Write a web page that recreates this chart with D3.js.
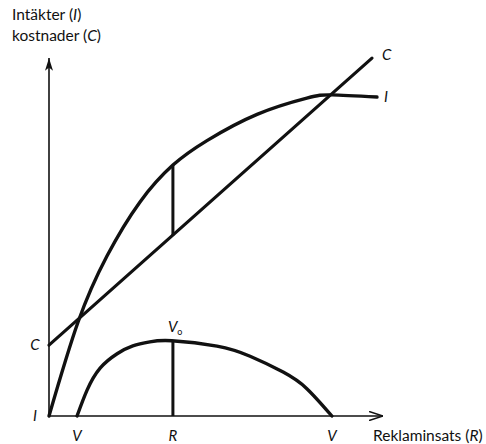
<!DOCTYPE html>
<html>
<head>
<meta charset="utf-8">
<script src="https://cdn.jsdelivr.net/npm/d3@7"></script>
<style>
  body { margin: 0; background: #fff; }
  svg text { font-family: Lato, "Open Sans", sans-serif; fill: #111; }
</style>
</head>
<body>
<svg id="chart"></svg>
<script>
// Revenue curve I (advertising level, value)
const incomeX = [0, 8.7, 17.4, 27.2, 37.1, 47.3, 62.3, 77.2, 84.7, 98.2];
const incomeY = [0, 26.1, 44.5, 59.4, 69.7, 76.5, 83.8, 88.3, 89.2, 88.6];
// Cost line C
const costX = [0, 96.7];
const costY = [19.7, 99.4];
// Profit curve V
const profitX = [8.4, 11.4, 15.3, 20.4, 25.1, 30.2, 36.8, 50.3, 60.2, 70.1, 77.2, 84.7];
const profitY = [0, 7.2, 13.3, 17.3, 19.5, 20.6, 20.9, 19.4, 16.6, 12.2, 7.6, 0];
// Optimum advertising R and its values
const optR = 37.1;
const optIncome = 69.7;
const optCost = 50.2;
const optProfit = 20.9;
// Axis labels
const xTicks = [{ v: 8.4, t: "V" }, { v: 37.1, t: "R" }, { v: 84.7, t: "V" }];
const yTicks = [{ v: 19.7, t: "C" }, { v: 0, t: "I" }];

const W = 486, H = 444;
const svg = d3.select("#chart").attr("width", W).attr("height", H);

const x = d3.scaleLinear().domain([0, 100]).range([49, 383]);
const y = d3.scaleLinear().domain([0, 100]).range([416, 56]);

const defs = svg.append("defs");
defs.append("marker")
    .attr("id", "arrowY").attr("viewBox", "0 0 10 16")
    .attr("refX", 5).attr("refY", 0)
    .attr("markerWidth", 8).attr("markerHeight", 13)
    .attr("markerUnits", "userSpaceOnUse")
    .attr("orient", "0")
    .append("path").attr("d", "M5,0 L10,16 L5,12 L0,16 Z").attr("fill", "#111");
defs.append("marker")
    .attr("id", "arrowX").attr("viewBox", "0 0 14 10")
    .attr("refX", 14).attr("refY", 5)
    .attr("markerWidth", 14).attr("markerHeight", 10)
    .attr("markerUnits", "userSpaceOnUse")
    .attr("orient", "0")
    .append("path").attr("d", "M0,0.5 L14,5 L0,9.5").attr("fill", "none")
    .attr("stroke", "#111").attr("stroke-width", 1.6);

// axes
svg.append("line")
    .attr("x1", x(0)).attr("y1", y(0)).attr("x2", x(0)).attr("y2", y(100) + 2)
    .attr("stroke", "#111").attr("stroke-width", 1.6)
    .attr("marker-end", "url(#arrowY)");
svg.append("line")
    .attr("x1", x(0)).attr("y1", y(0)).attr("x2", x(100)).attr("y2", y(0))
    .attr("stroke", "#111").attr("stroke-width", 1.6)
    .attr("marker-end", "url(#arrowX)");

const line = d3.line()
    .x(function (d) { return x(d[0]); })
    .y(function (d) { return y(d[1]); })
    .curve(d3.curveNatural);

function draw(xs, ys, w) {
    svg.append("path")
        .datum(d3.zip(xs, ys))
        .attr("d", line)
        .attr("fill", "none")
        .attr("stroke", "#111")
        .attr("stroke-width", w)
        .attr("stroke-linecap", "round");
}
draw(incomeX, incomeY, 3.4);
draw(costX, costY, 3.2);
draw(profitX, profitY, 3.4);

// verticals at optimum R
svg.append("line")
    .attr("x1", x(optR)).attr("x2", x(optR))
    .attr("y1", y(optIncome)).attr("y2", y(optCost))
    .attr("stroke", "#111").attr("stroke-width", 3);
svg.append("line")
    .attr("x1", x(optR)).attr("x2", x(optR))
    .attr("y1", y(optProfit)).attr("y2", y(0))
    .attr("stroke", "#111").attr("stroke-width", 3);

// tick labels
svg.selectAll(".xt").data(xTicks).enter().append("text")
    .attr("x", function (d) { return x(d.v); })
    .attr("y", 441)
    .attr("text-anchor", "middle")
    .attr("font-size", 15).attr("font-style", "italic")
    .text(function (d) { return d.t; });
svg.selectAll(".yt").data(yTicks).enter().append("text")
    .attr("x", 35)
    .attr("y", function (d) { return y(d.v) + 5; })
    .attr("text-anchor", "middle")
    .attr("font-size", 15).attr("font-style", "italic")
    .text(function (d) { return d.t; });

// curve labels
svg.append("text").attr("x", x(96.7) + 10).attr("y", y(99.4) + 2)
    .attr("font-size", 15).attr("font-style", "italic").text("C");
svg.append("text").attr("x", x(98.2) + 7).attr("y", y(88.6) + 5)
    .attr("font-size", 15).attr("font-style", "italic").text("I");
const v0 = svg.append("text").attr("x", x(optR) - 5).attr("y", y(optProfit) - 9)
    .attr("font-size", 15).attr("font-style", "italic");
v0.append("tspan").text("V");
v0.append("tspan").attr("font-size", 9).attr("dy", 3).attr("font-style", "normal").text("o");

// axis titles
const t1 = svg.append("text").attr("x", 12).attr("y", 20).attr("font-size", 15.5);
t1.append("tspan").text("Intäkter (");
t1.append("tspan").attr("font-style", "italic").text("I");
t1.append("tspan").text(")");
const t2 = svg.append("text").attr("x", 12).attr("y", 41).attr("font-size", 15.5);
t2.append("tspan").text("kostnader (");
t2.append("tspan").attr("font-style", "italic").text("C");
t2.append("tspan").text(")");
const t3 = svg.append("text").attr("x", 373).attr("y", 441).attr("font-size", 15.5);
t3.append("tspan").text("Reklaminsats (");
t3.append("tspan").attr("font-style", "italic").text("R");
t3.append("tspan").text(")");
</script>
</body>
</html>
